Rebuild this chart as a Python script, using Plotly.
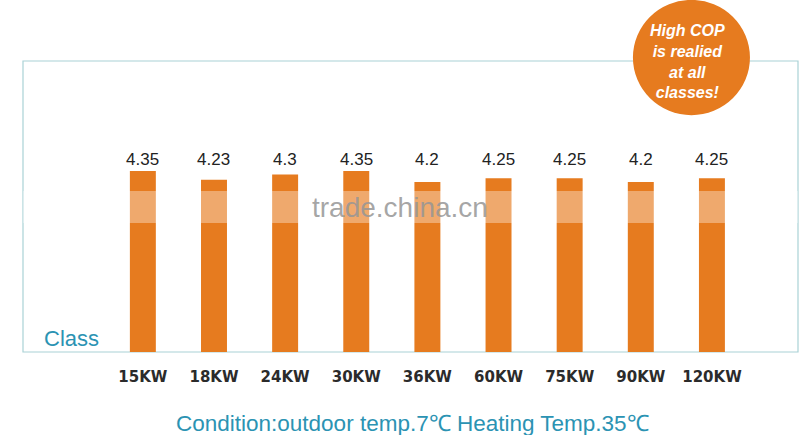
"""
COP by unit class — bar chart with callout bubble.
Output: out.html
"""

import plotly.graph_objects as go

# ── Data ─────────────────────────────────────────────────────────────────────
CLASSES = ["15KW", "18KW", "24KW", "30KW", "36KW", "60KW", "75KW", "90KW", "120KW"]
COP = [4.35, 4.23, 4.3, 4.35, 4.2, 4.25, 4.25, 4.2, 4.25]
COP_LABELS = ["4.35", "4.23", "4.3", "4.35", "4.2", "4.25", "4.25", "4.2", "4.25"]

BUBBLE_TEXT = "High COP<br>is realied<br>at all<br>classes!"
AXIS_NAME = "Class"
CONDITION = "Condition:outdoor temp.7℃ Heating Temp.35℃"
WATERMARK = "trade.china.cn"

ORANGE = "#e67b1f"
TEAL = "#2b93b3"
FRAME = "#aad2d6"


def build() -> go.Figure:
    fig = go.Figure(go.Bar(
        x=CLASSES, y=COP,
        marker=dict(color=ORANGE, line=dict(width=0)),
        width=0.365,
        hoverinfo="x+y",
    ))

    # value labels sit on a common line above the bars
    for cls, lab in zip(CLASSES, COP_LABELS):
        fig.add_annotation(
            x=cls, y=0.66, xref="x", yref="paper", text=lab, showarrow=False,
            xanchor="center", yanchor="middle",
            font=dict(family="Liberation Sans", size=17, color="#222222"),
        )

    shapes = [
        # thin frame round the plot
        dict(type="rect", xref="paper", yref="paper", x0=0, x1=1, y0=0, y1=1,
             line=dict(color=FRAME, width=1.2), layer="below"),
        # faded band from the watermark strip
        dict(type="rect", xref="paper", yref="paper", x0=0, x1=1, y0=0.443, y1=0.553,
             fillcolor="rgba(255,255,255,0.35)", line=dict(width=0), layer="above"),
        # orange call-out bubble
        dict(type="circle", xref="paper", yref="paper",
             x0=0.787, x1=0.938, y0=0.814, y1=1.21,
             fillcolor=ORANGE, line=dict(width=0), layer="above"),
    ]

    annotations = [
        dict(x=0.857, y=1.0, text=f"<b><i>{BUBBLE_TEXT}</i></b>", align="center",
             font=dict(family="Liberation Sans", size=16, color="white")),
        dict(x=0.063, y=0.048, text=AXIS_NAME,
             font=dict(family="Liberation Sans", size=22, color=TEAL)),
        dict(x=0.503, y=-0.244, text=CONDITION,
             font=dict(family="Liberation Sans", size=22.5, color=TEAL)),
        dict(x=0.486, y=0.495, text=WATERMARK,
             font=dict(family="Liberation Sans", size=28, color="rgba(150,150,150,0.85)")),
    ]

    fig.update_layout(
        width=800, height=435,
        margin=dict(l=23, r=2, t=61, b=83),
        paper_bgcolor="white", plot_bgcolor="white",
        showlegend=False,
        shapes=shapes,
        xaxis=dict(
            type="category", range=[-1.685, 9.21],
            showgrid=False, zeroline=False, showline=False, ticks="",
            ticklabelstandoff=14,
            tickfont=dict(family="DejaVu Sans", size=15, color="#2b2b2b", weight="bold"),
        ),
        yaxis=dict(range=[1.88, 5.85], visible=False, showgrid=False, zeroline=False),
    )
    for a in annotations:
        fig.add_annotation(xref="paper", yref="paper", showarrow=False,
                           xanchor="center", yanchor="middle", **a)
    return fig


if __name__ == "__main__":
    # drop the default body margin so the figure fills the window exactly
    build().write_html("out.html", config={"displayModeBar": False},
                       post_script="document.body.style.margin='0';")
